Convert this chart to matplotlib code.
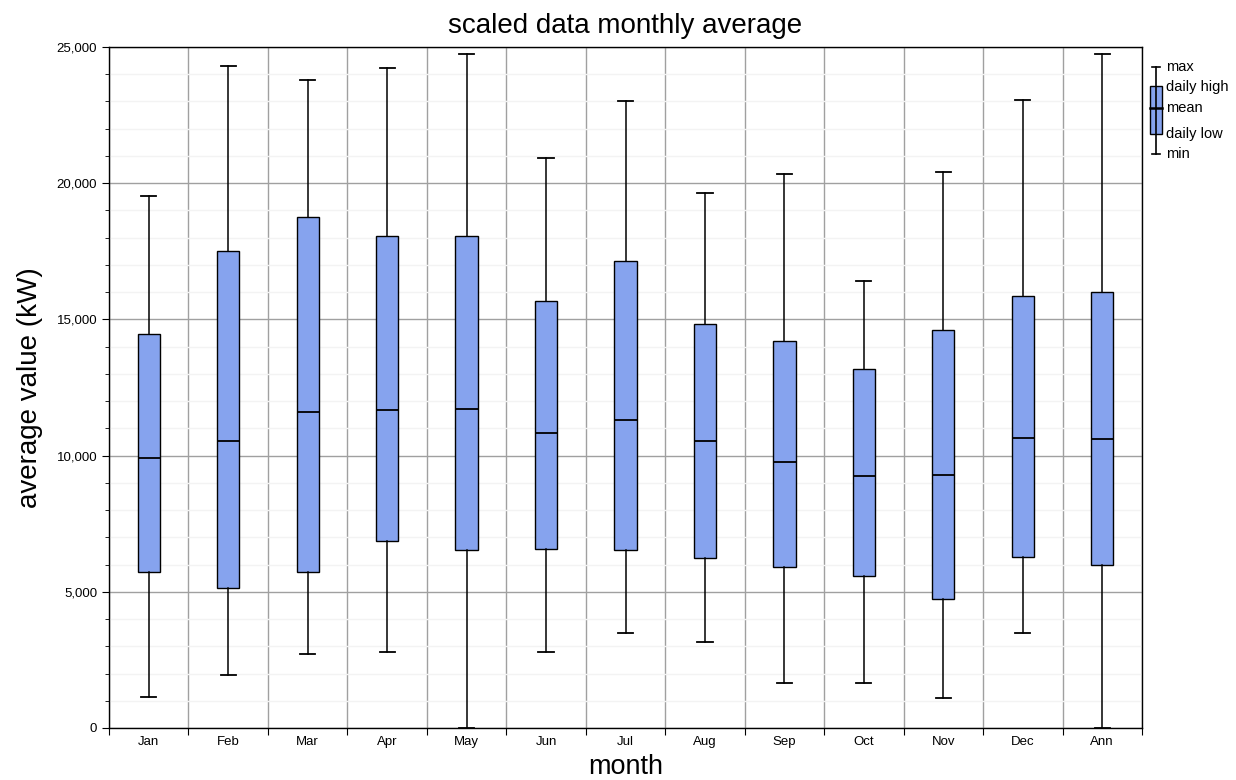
import matplotlib
matplotlib.use("Agg")
import matplotlib.pyplot as plt
from matplotlib.ticker import MultipleLocator, FuncFormatter, FixedLocator
from matplotlib.patches import Rectangle
from matplotlib.lines import Line2D

plt.rcParams['font.family'] = ['Liberation Sans', 'DejaVu Sans']

months = ['Jan', 'Feb', 'Mar', 'Apr', 'May', 'Jun', 'Jul', 'Aug', 'Sep', 'Oct', 'Nov', 'Dec', 'Ann']
v_max = [19530, 24300, 23790, 24230, 24740, 20930, 23020, 19640, 20340, 16410, 20410, 23050, 24740]
v_high = [14450, 17510, 18760, 18060, 18060, 15680, 17140, 14830, 14210, 13180, 14610, 15860, 16010]
v_mean = [9910, 10540, 11600, 11670, 11710, 10830, 11310, 10540, 9770, 9250, 9290, 10650, 10610]
v_low = [5730, 5140, 5730, 6870, 6530, 6570, 6530, 6240, 5910, 5580, 4740, 6280, 5980]
v_min = [1140, 1950, 2720, 2790, 0, 2790, 3490, 3160, 1650, 1650, 1100, 3490, 0]

box_color = '#86a3ee'

fig = plt.figure(figsize=(12.36, 7.8), dpi=100)
ax = fig.add_axes([109/1236, 52/780, (1142-109)/1236, (728-47)/780])

stats = []
for i, m in enumerate(months):
    stats.append(dict(label=m, whislo=v_min[i], q1=v_low[i], med=v_mean[i],
                      q3=v_high[i], whishi=v_max[i]))

pos = list(range(len(months)))
ax.bxp(stats, positions=pos, widths=0.28, capwidths=0.19, showfliers=False,
       patch_artist=True,
       boxprops=dict(facecolor=box_color, edgecolor='black', linewidth=1.0),
       medianprops=dict(color='black', linewidth=1.3),
       whiskerprops=dict(color='black', linewidth=1.1),
       capprops=dict(color='black', linewidth=1.3),
       zorder=3)

ax.set_xlim(-0.5, len(months) - 0.5)
ax.set_ylim(0, 25000)

# x: boundaries get tick marks + grid, centres carry the labels
ax.xaxis.set_major_locator(FixedLocator([i + 0.5 for i in range(-1, len(months))]))
ax.xaxis.set_major_formatter(FuncFormatter(lambda x, p: ''))
ax.xaxis.set_minor_locator(FixedLocator(pos))
ax.set_xticklabels(months, minor=True)
ax.tick_params(axis='x', which='major', length=5, direction='out')
ax.tick_params(axis='x', which='minor', length=0, labelsize=9.5, pad=6)

ax.yaxis.set_major_locator(MultipleLocator(5000))
ax.yaxis.set_minor_locator(MultipleLocator(1000))
ax.yaxis.set_major_formatter(FuncFormatter(lambda y, p: f'{int(y):,}'))
ax.tick_params(axis='y', which='major', length=5, labelsize=9.5, direction='out')
ax.tick_params(axis='y', which='minor', length=3, direction='out')

ax.grid(True, axis='y', which='major', color='#a0a0a0', linewidth=1.0, zorder=0)
ax.grid(True, axis='y', which='minor', color='#f3f3f3', linewidth=1.0, zorder=0)
ax.grid(True, axis='x', which='major', color='#a0a0a0', linewidth=1.0, zorder=0)
ax.set_axisbelow(True)

for s in ax.spines.values():
    s.set_color('black')
    s.set_linewidth(1.0)

ax.set_title('scaled data monthly average', fontsize=20, pad=10)
ax.set_xlabel('month', fontsize=19.5, labelpad=4)
ax.set_ylabel('average value (kW)', fontsize=20, labelpad=10)

# legend glyph drawn by hand, outside the axes on the right
W, H = 1236.0, 780.0
def fx(x): return x / W
def fy(y): return 1 - y / H

cx = 1156
fig.add_artist(Line2D([fx(cx), fx(cx)], [fy(67), fy(154)], color='black', lw=1.2, transform=fig.transFigure))
fig.add_artist(Line2D([fx(cx - 4), fx(cx + 4)], [fy(67), fy(67)], color='black', lw=1.2, transform=fig.transFigure))
fig.add_artist(Line2D([fx(cx - 4), fx(cx + 4)], [fy(154), fy(154)], color='black', lw=1.2, transform=fig.transFigure))
fig.add_artist(Rectangle((fx(cx - 6), fy(134)), fx(12), (134 - 86) / H, facecolor=box_color,
                         edgecolor='black', lw=1.0, transform=fig.transFigure))
fig.add_artist(Line2D([fx(cx - 6), fx(cx + 6)], [fy(108), fy(108)], color='black', lw=1.8, transform=fig.transFigure))

for lab, yy in [('max', 67), ('daily high', 87), ('mean', 108), ('daily low', 134), ('min', 154)]:
    fig.text(fx(1166), fy(yy), lab, fontsize=10.5, va='center', ha='left')

fig.savefig('out.png', dpi=100)
